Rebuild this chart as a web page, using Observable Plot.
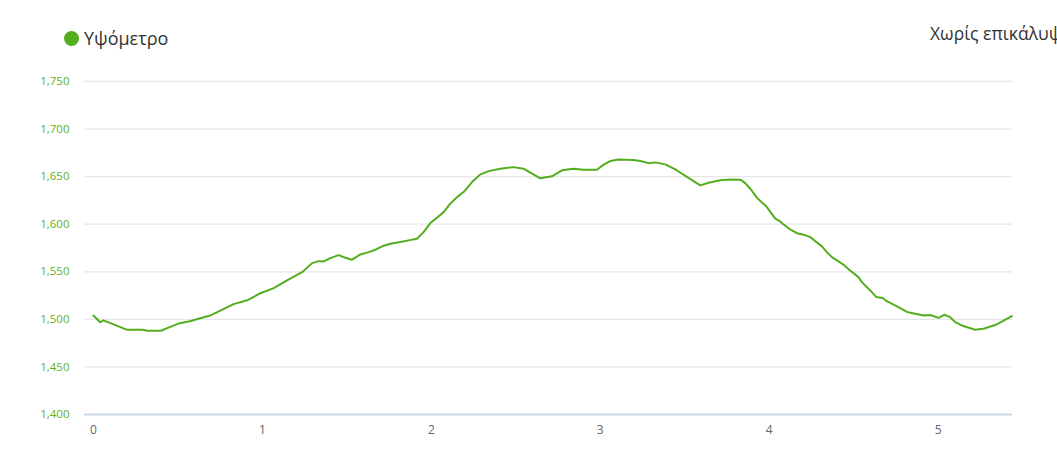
<!DOCTYPE html>
<html>
<head>
<meta charset="utf-8">
<script src="https://cdn.jsdelivr.net/npm/d3@7"></script>
<script src="https://cdn.jsdelivr.net/npm/@observablehq/plot@0.6"></script>
<style>
  html, body { margin: 0; padding: 0; background: #fff; overflow: hidden; }
  body { width: 1057px; height: 456px; font-family: "Open Sans", sans-serif; }
  #header { position: relative; height: 60px; width: 1057px; overflow: hidden; }
  #legend { position: absolute; left: 64px; top: 26px; display: flex; align-items: center; font-size: 18px; color: #333; }
  #legend .dot { width: 15px; height: 15px; border-radius: 50%; background: #52ae1f; margin-right: 5px; }
  #right { position: absolute; left: 930px; top: 21px; font-size: 17.5px; color: #333; white-space: nowrap; }
</style>
</head>
<body>
<div id="header">
  <div id="legend"><span class="dot"></span><span>Υψόμετρο</span></div>
  <div id="right">Χωρίς επικάλυψη</div>
</div>
<div id="chart"></div>
<script>
const seriesName = "Υψόμετρο";
const distanceKm = [0, 0.04, 0.06, 0.2, 0.29, 0.32, 0.40, 0.44, 0.51, 0.57, 0.69, 0.83, 0.91, 0.988, 1.067, 1.146, 1.235, 1.294, 1.333, 1.363, 1.402, 1.451, 1.491, 1.531, 1.580, 1.629, 1.669, 1.718, 1.757, 1.817, 1.866, 1.915, 1.954, 1.994, 2.014, 2.073, 2.112, 2.152, 2.191, 2.241, 2.290, 2.339, 2.408, 2.487, 2.546, 2.596, 2.645, 2.714, 2.773, 2.842, 2.901, 2.980, 3.020, 3.059, 3.108, 3.197, 3.237, 3.286, 3.325, 3.385, 3.444, 3.493, 3.552, 3.592, 3.641, 3.710, 3.769, 3.828, 3.858, 3.888, 3.927, 3.986, 4.036, 4.065, 4.085, 4.124, 4.164, 4.203, 4.243, 4.262, 4.312, 4.341, 4.371, 4.410, 4.440, 4.479, 4.528, 4.548, 4.598, 4.633, 4.672, 4.696, 4.756, 4.815, 4.913, 4.953, 5.002, 5.036, 5.071, 5.101, 5.140, 5.219, 5.268, 5.347, 5.436];
const elevationM = [1504, 1497, 1499, 1489, 1489, 1488, 1488, 1491, 1496, 1498, 1504, 1516, 1520, 1527.5, 1532.8, 1540.9, 1549.6, 1559.1, 1561.2, 1560.9, 1564.4, 1567.5, 1564.8, 1562.7, 1568.2, 1570.7, 1573.2, 1577.4, 1579.5, 1581.2, 1583, 1584.8, 1591.7, 1601.2, 1604, 1612.7, 1621.6, 1628.5, 1633.8, 1644.3, 1652.4, 1655.8, 1658.4, 1660, 1658.4, 1653.1, 1648.3, 1650.3, 1656.6, 1658.4, 1657.3, 1657.3, 1662.6, 1666.4, 1668.1, 1667.4, 1666.4, 1664.2, 1665, 1662.9, 1657.6, 1652, 1645.3, 1640.8, 1643.6, 1646.1, 1647.1, 1646.8, 1643.2, 1637.3, 1627.9, 1618, 1605.8, 1602.9, 1599.8, 1594.5, 1590.6, 1589, 1586.4, 1583.7, 1576.7, 1570.7, 1565.4, 1560.9, 1557.4, 1551.4, 1544.4, 1539.1, 1530.4, 1523.6, 1522.5, 1519.1, 1513.6, 1507.8, 1504.1, 1504.6, 1501.5, 1504.8, 1502.3, 1497.1, 1493.6, 1489.1, 1490.1, 1494.6, 1503.4];
const yTicks = [1400, 1450, 1500, 1550, 1600, 1650, 1700, 1750];
const xTicks = [0, 1, 2, 3, 4, 5];

const data = distanceKm.map((d, i) => ({km: d, ele: elevationM[i]}));
const fmt = d3.format(",");

const chart = Plot.plot({
  width: 1057,
  height: 396,
  marginTop: 21,
  marginBottom: 42,
  marginLeft: 84,
  marginRight: 45,
  style: {fontFamily: "Open Sans, sans-serif", background: "#fff", overflow: "visible"},
  x: {domain: [-0.053, 5.44]},
  y: {domain: [1400, 1750]},
  marks: [
    Plot.gridY(yTicks.filter(t => t > 1400), {stroke: "#e6e6e6", strokeOpacity: 1, strokeWidth: 1.3}),
    Plot.ruleY([1400], {stroke: "#ccd6eb", strokeWidth: 2}),
    Plot.axisY(yTicks, {tickFormat: fmt, tickSize: 0, tickPadding: 15, fill: "#5fb014", fontSize: 11.5, label: null}),
    Plot.axisX(xTicks, {tickFormat: d => String(d), tickSize: 0, tickPadding: 11, fill: "#666", fontSize: 12, label: null}),
    Plot.line(data, {x: "km", y: "ele", stroke: "#52ae1f", strokeWidth: 2, curve: "linear"})
  ]
});
document.getElementById("chart").appendChild(chart);
</script>
</body>
</html>
